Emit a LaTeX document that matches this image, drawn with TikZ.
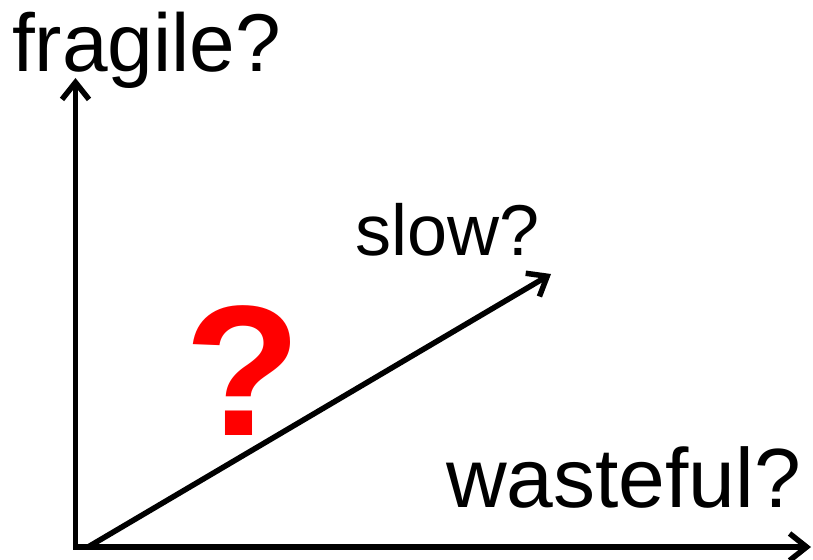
\documentclass[tikz,border=0pt]{standalone}
\usepackage{fontspec}
\setmainfont{Liberation Sans}
\usetikzlibrary{arrows.meta}
\begin{document}
\begin{tikzpicture}[x=1pt,y=-1pt,
  axis/.style={line width=5.5pt,-{Straight Barb[length=17pt,width=27pt,line width=5.5pt]}},
  lbl/.style={anchor=base west,inner sep=0pt,text=black}]
\useasboundingbox (0,0) rectangle (813,559);
\coordinate (o) at (75.5,549.5);
\coordinate (oh) at (73,547);
\coordinate (top) at (75.5,78);
\coordinate (right) at (811,547);
\coordinate (ds) at (88,547);
\coordinate (de) at (551,274);
\draw[axis] (o) -- (top);
\draw[axis] (oh) -- (right);
\draw[axis] (ds) -- (de);
\node[lbl,font=\fontsize{82}{82}\selectfont] (frag) at (12,72) {fragile?};
\node[lbl,font=\fontsize{72}{72}\selectfont] (slow) at (355,255) {slow?};
\node[lbl,font=\fontsize{84}{84}\selectfont] (waste) at (446,507) {wasteful?};
\node[anchor=base,inner sep=0pt,text=red,xscale=1.03,font=\fontsize{186}{186}\selectfont\bfseries] (q) at (243,435) {?};
\end{tikzpicture}
\end{document}
